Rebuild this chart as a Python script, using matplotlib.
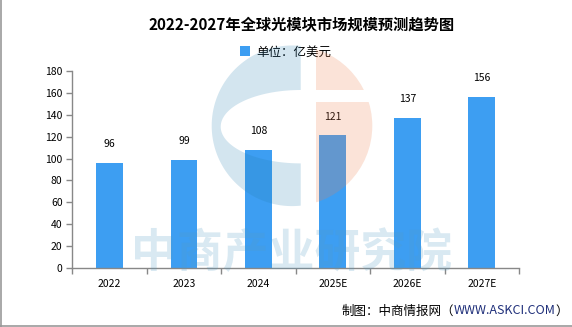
import numpy as np
import matplotlib
matplotlib.use("Agg")
import matplotlib.pyplot as plt
from matplotlib.patches import Polygon, Circle, Rectangle

plt.rcParams['font.family'] = ['Noto Sans CJK SC', 'DejaVu Sans']

categories = ["2022", "2023", "2024", "2025E", "2026E", "2027E"]
values = [96, 99, 108, 121, 137, 156]
yticks = [0, 20, 40, 60, 80, 100, 120, 140, 160, 180]
title = "2022-2027年全球光模块市场规模预测趋势图"
legend_label = "单位：亿美元"
footer_a = "制图：中商情报网（"
footer_b = "WWW.ASKCI.COM"
footer_c = "）"
watermark = "中商产业研究院"

W, H = 572, 327
fig = plt.figure(figsize=(W / 100, H / 100), dpi=100)
fig.patch.set_facecolor("white")

ax = fig.add_axes([72.3 / W, 1 - 268.3 / H, (519 - 72.3) / W, (268.3 - 70.7) / H])
x = np.arange(len(categories))
bar_color = "#3D9EF2"
bars = ax.bar(x, values, width=0.36, color=bar_color, label=legend_label, zorder=2)
for xi, v in zip(x, values):
    ax.annotate(str(v), (xi, v), xytext=(0, 10), textcoords="offset points",
                ha="center", va="bottom", fontsize=7.5, color="black")

ax.set_xlim(-0.5, len(categories) - 0.5)
ax.set_ylim(0, 180)
ax.set_yticks(yticks)
ax.set_xticks(x)
ax.set_xticklabels(categories)
ax.set_xticks(np.arange(-0.5, len(categories), 1.0), minor=True)
ax.tick_params(axis="x", which="major", length=0, pad=7.5, labelsize=7.5)
ax.tick_params(axis="x", which="minor", length=4, color="#888888", width=1)
ax.tick_params(axis="y", length=4, color="#888888", width=1, pad=3, labelsize=7.5)
for s in ["top", "right"]:
    ax.spines[s].set_visible(False)
for s in ["left", "bottom"]:
    ax.spines[s].set_color("#888888")
    ax.spines[s].set_linewidth(1)
ax.set_facecolor("none")

fig.text(302 / W, 1 - 24 / H, title, ha="center", va="center",
         fontsize=11, fontweight="bold", color="black")
leg = fig.legend(handles=[bars], labels=[legend_label], loc="center",
                 bbox_to_anchor=(286 / W, 1 - 52 / H), frameon=False,
                 fontsize=9, handlelength=0.8, handleheight=0.8, handletextpad=0.5)

# overlay for watermark, logo, border, footer
ov = fig.add_axes([0, 0, 1, 1], zorder=10)
ov.set_xlim(0, W)
ov.set_ylim(H, 0)
ov.axis("off")
ov.patch.set_alpha(0)

cx, cy, r = 292.0, 125.8, 80.3
# blue crescent
xb = 300.7
dx = xb - cx
dy = np.sqrt(r**2 - dx**2)
a0 = np.arctan2(-dy, dx)
a1 = np.arctan2(dy, dx)
t = np.linspace(a0, a0 - (2 * np.pi - (a1 - a0)), 120)
outer = np.column_stack([cx + r * np.cos(t), cy + r * np.sin(t)])
ecx, ecy, ea, eb = xb, 126.7, 80.0, 36.7
te = np.linspace(np.pi / 2, 3 * np.pi / 2, 80)
inner = np.column_stack([ecx + ea * np.cos(te), ecy + eb * np.sin(te)])
blue_poly = np.vstack([outer, inner])
ov.add_patch(Polygon(blue_poly, closed=True, facecolor=(35/255, 125/255, 175/255),
                     alpha=0.2, edgecolor="none"))
# peach parts
peach = (237/255, 129/255, 79/255)
for (y0, y1) in [(0, 90), (101.7, 327)]:
    c = Circle((cx, cy), r, facecolor=peach, alpha=0.22, edgecolor="none")
    ov.add_patch(c)
    rect = Rectangle((316, y0), 200, y1 - y0, transform=ov.transData)
    c.set_clip_path(rect)

ov.text(292, 254.5, watermark, ha="center", va="center", fontsize=33,
        fontweight="bold", color=(84/255, 156/255, 196/255), alpha=0.22)

# border
ov.plot([0.5, 0.5], [0, H], color="#999999", lw=1.2)
ov.plot([0, W], [H - 0.7, H - 0.7], color="#999999", lw=1.2)

# footer
renderer = fig.canvas.get_renderer()
fy = 311
fs = 9
tc = ov.text(568, fy, footer_c, ha="right", va="center", fontsize=fs, color="black")
bb = tc.get_window_extent(renderer)
tb = ov.text(568 - bb.width, fy, footer_b, ha="right", va="center", fontsize=fs,
             color="#1F2F7A")
bb2 = tb.get_window_extent(renderer)
ov.text(568 - bb.width - bb2.width, fy, footer_a, ha="right", va="center",
        fontsize=fs, color="black")

fig.savefig("out.png", dpi=100)
